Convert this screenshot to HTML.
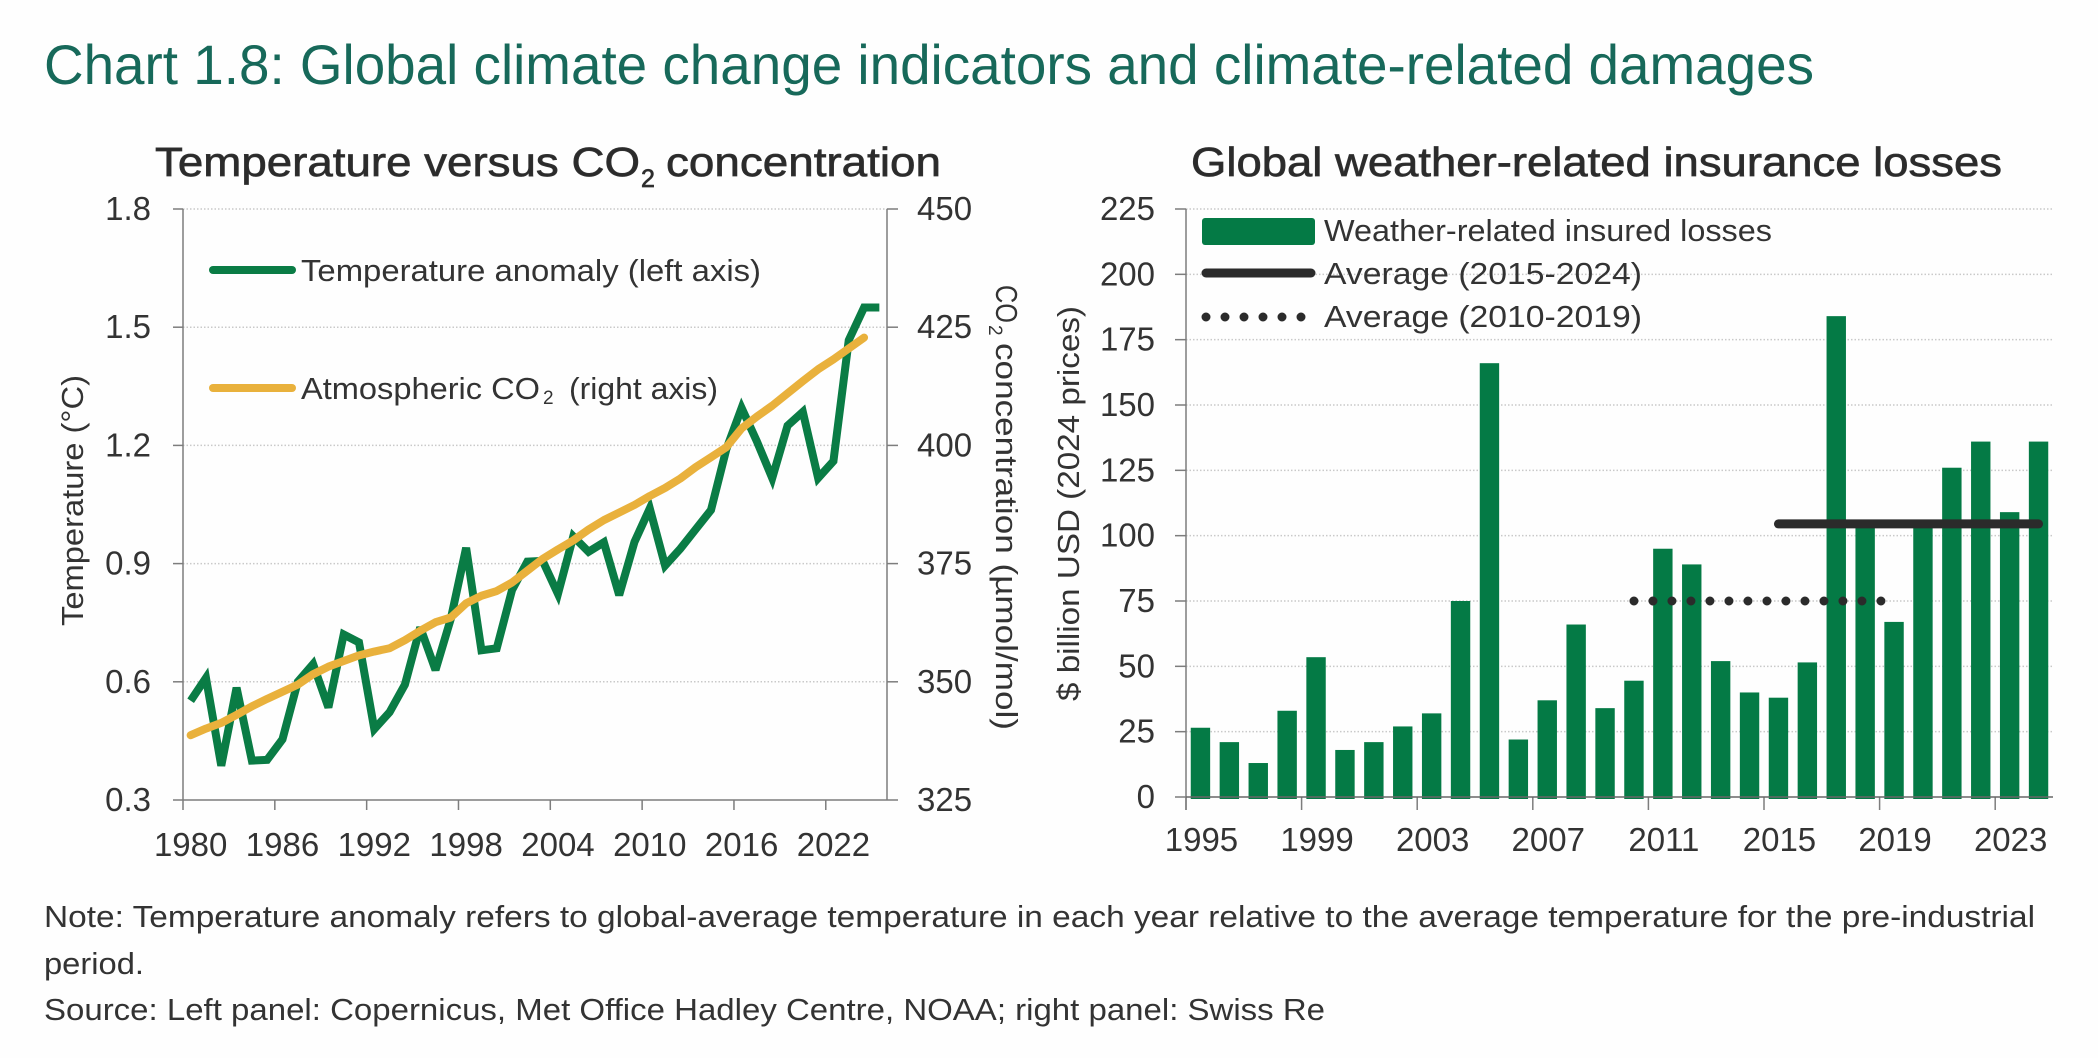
<!DOCTYPE html>
<html lang="en">
<head>
<meta charset="utf-8">
<title>Chart 1.8: Global climate change indicators and climate-related damages</title>
<style>
html,body{margin:0;padding:0;background:#fefefe;width:2098px;height:1058px;overflow:hidden}
svg{display:block}
text{font-family:"Liberation Sans",sans-serif;fill:#333}
.title{fill:#17695a;font-size:56px}
.ptitle{font-size:41px;stroke:#333;stroke-width:.7px;fill:#2b2b2b}
.tick{font-size:33px}
.lab{font-size:31px}
.leg{font-size:31px}
.foot{font-size:31px}
</style>
</head>
<body>
<svg id="chart" xmlns="http://www.w3.org/2000/svg" width="2098" height="1058" viewBox="0 0 2098 1058">
  <text class="title" x="44" y="84" textLength="1770" lengthAdjust="spacingAndGlyphs">Chart 1.8: Global climate change indicators and climate-related damages</text>

  <g>
    <text class="ptitle" x="155" y="176" textLength="485" lengthAdjust="spacingAndGlyphs">Temperature versus CO</text>
    <text class="ptitle" x="641" y="187" style="font-size:25px">2</text>
    <text class="ptitle" x="666" y="176" textLength="275" lengthAdjust="spacingAndGlyphs">concentration</text>
  </g>
  <text class="ptitle" x="1191" y="176" textLength="811" lengthAdjust="spacingAndGlyphs">Global weather-related insurance losses</text>

  <g id="left-grid"></g>
  <g id="left-axes"></g>
  <g id="left-series"></g>
  <g id="right-grid"></g>
  <g id="right-bars"></g>
  <g id="right-axes"></g>
  <g id="right-averages"></g>

  <text class="lab" transform="translate(83,626) rotate(-90)" textLength="251" lengthAdjust="spacingAndGlyphs">Temperature (°C)</text>
  <g transform="translate(996,285) rotate(90)">
    <text class="lab" x="0" y="0" textLength="38" lengthAdjust="spacingAndGlyphs">CO</text>
    <text x="40" y="7" style="font-size:19px">2</text>
    <text class="lab" x="58" y="0" textLength="387" lengthAdjust="spacingAndGlyphs">concentration (µmol/mol)</text>
  </g>
  <text class="lab" transform="translate(1079,701) rotate(-90)" textLength="395" lengthAdjust="spacingAndGlyphs">$ billion USD (2024 prices)</text>

  <g>
    <line x1="213" y1="270" x2="292" y2="270" stroke="#0a7c45" stroke-width="8" stroke-linecap="round"/>
    <text class="leg" x="301" y="281" textLength="460" lengthAdjust="spacingAndGlyphs">Temperature anomaly (left axis)</text>
    <line x1="213" y1="388" x2="292" y2="388" stroke="#e9b13c" stroke-width="8" stroke-linecap="round"/>
    <g>
      <text class="leg" x="301" y="399" textLength="239" lengthAdjust="spacingAndGlyphs">Atmospheric CO</text>
      <text x="543" y="404" style="font-size:19px">2</text>
      <text class="leg" x="569" y="399" textLength="149" lengthAdjust="spacingAndGlyphs">(right axis)</text>
    </g>
  </g>

  <g>
    <rect x="1202" y="218" width="113" height="27" rx="3" fill="#047a45"/>
    <text class="leg" x="1324" y="241" textLength="448" lengthAdjust="spacingAndGlyphs">Weather-related insured losses</text>
    <line x1="1206" y1="273" x2="1311" y2="273" stroke="#2b2b2b" stroke-width="9" stroke-linecap="round"/>
    <text class="leg" x="1324" y="284" textLength="318" lengthAdjust="spacingAndGlyphs">Average (2015-2024)</text>
    <line x1="1206" y1="317" x2="1302" y2="317" stroke="#2b2b2b" stroke-width="9" stroke-linecap="round" stroke-dasharray="0 19"/>
    <text class="leg" x="1324" y="327" textLength="318" lengthAdjust="spacingAndGlyphs">Average (2010-2019)</text>
  </g>

  <g>
    <text class="foot" x="44" y="927" textLength="1991" lengthAdjust="spacingAndGlyphs">Note: Temperature anomaly refers to global-average temperature in each year relative to the average temperature for the pre-industrial</text>
    <text class="foot" x="44" y="974" textLength="100" lengthAdjust="spacingAndGlyphs">period.</text>
    <text class="foot" x="44" y="1020" textLength="1281" lengthAdjust="spacingAndGlyphs">Source: Left panel: Copernicus, Met Office Hadley Centre, NOAA; right panel: Swiss Re</text>
  </g>
</svg>
<script>
const tempYears = [1980,1981,1982,1983,1984,1985,1986,1987,1988,1989,1990,1991,1992,1993,1994,1995,1996,1997,1998,1999,2000,2001,2002,2003,2004,2005,2006,2007,2008,2009,2010,2011,2012,2013,2014,2015,2016,2017,2018,2019,2020,2021,2022,2023,2024,2025];
const temperature = [0.552,0.61,0.387,0.585,0.40,0.402,0.454,0.60,0.645,0.535,0.72,0.70,0.48,0.523,0.593,0.738,0.63,0.76,0.94,0.68,0.685,0.833,0.905,0.907,0.823,0.969,0.93,0.954,0.82,0.955,1.04,0.895,0.938,0.987,1.036,1.19,1.295,1.21,1.117,1.25,1.285,1.117,1.16,1.467,1.55,1.55];
const co2 = [338.7,340.1,341.3,343.0,344.8,346.4,347.9,349.4,351.6,353.2,354.4,355.6,356.4,357.1,358.8,360.8,362.6,363.6,366.6,368.2,369.2,371.0,373.5,376.0,378.0,379.9,382.2,384.2,385.8,387.4,389.3,391.0,393.0,395.4,397.5,399.6,403.6,406.1,408.4,411.0,413.6,416.1,418.2,420.5,422.8];
const tempTicks = [0.3,0.6,0.9,1.2,1.5,1.8];
const co2Ticks = [325,350,375,400,425,450];
const leftXTicks = [1980,1986,1992,1998,2004,2010,2016,2022];
const lossYears = [1995,1996,1997,1998,1999,2000,2001,2002,2003,2004,2005,2006,2007,2008,2009,2010,2011,2012,2013,2014,2015,2016,2017,2018,2019,2020,2021,2022,2023,2024];
const losses = [26.5,21,13,33,53.5,18,21,27,32,75,166,22,37,66,34,44.5,95,89,52,40,38,51.5,184,104,67,104,126,136,109,136];
const lossTicks = [0,25,50,75,100,125,150,175,200,225];
const rightXTicks = [1995,1999,2003,2007,2011,2015,2019,2023];
const avgRecent = {from:2015,to:2024,value:104.5};
const avgPrior = {from:2010,to:2019,value:75};

const NS = 'http://www.w3.org/2000/svg';
const L = {x0:183,x1:887,y0:800,y1:209};
const R = {x0:1186,x1:2053,y0:797,y1:209};
const leftSlot = (L.x1-L.x0)/tempYears.length;
const rightSlot = (R.x1-R.x0)/lossYears.length;

function xLeftEdge(y){return L.x0+(y-tempYears[0])*leftSlot;}
function xLeft(y){return xLeftEdge(y)+leftSlot/2;}
function yTemp(v){return L.y0-(v-tempTicks[0])/(tempTicks[tempTicks.length-1]-tempTicks[0])*(L.y0-L.y1);}
function yCo2(v){return L.y0-(v-co2Ticks[0])/(co2Ticks[co2Ticks.length-1]-co2Ticks[0])*(L.y0-L.y1);}
function xRightEdge(y){return R.x0+(y-lossYears[0])*rightSlot;}
function xRight(y){return xRightEdge(y)+rightSlot/2;}
function yLoss(v){return R.y0-(v-lossTicks[0])/(lossTicks[lossTicks.length-1]-lossTicks[0])*(R.y0-R.y1);}

function make(tag,parent,attrs){
  const e=document.createElementNS(NS,tag);
  for(const k in attrs){e.setAttribute(k,attrs[k]);}
  parent.appendChild(e);
  return e;
}
function seg(parent,x1,y1,x2,y2,color,w,dash){
  const a={x1:x1,y1:y1,x2:x2,y2:y2,stroke:color,'stroke-width':w};
  if(dash){a['stroke-dasharray']=dash;}
  return make('line',parent,a);
}
function label(parent,x,y,str,anchor){
  const t=make('text',parent,{x:x,y:y,'text-anchor':anchor,'class':'tick'});
  t.textContent=str;
  return t;
}

const gl=document.getElementById('left-grid');
const al=document.getElementById('left-axes');
const sl=document.getElementById('left-series');
const gr=document.getElementById('right-grid');
const br=document.getElementById('right-bars');
const ar=document.getElementById('right-axes');
const av=document.getElementById('right-averages');
const axisColor='#7d7d7d';
const gridColor='#c9c9c9';

tempTicks.forEach(function(v){
  const y=yTemp(v);
  if(v!==tempTicks[0]){
    const g=seg(gl,L.x0,y,L.x1,y,gridColor,1.5,'1.5 2');
    
    
  }
  const t=seg(al,L.x0-10,y,L.x0,y,axisColor,1.5);
  
  
  const s=label(al,151,y+11,v.toFixed(1),'end');
  
  
});
co2Ticks.forEach(function(v){
  const y=yCo2(v);
  const t=seg(al,L.x1,y,L.x1+11,y,axisColor,1.5);
  
  
  const s=label(al,917,y+11,String(v),'start');
  
  
});
leftXTicks.forEach(function(yr){
  const x=xLeftEdge(yr);
  const t=seg(al,x,L.y0,x,L.y0+10,axisColor,1.5);
  
  
  const s=label(al,xLeft(yr),856,String(yr),'middle');
  
  
});
const lAxisL=seg(al,L.x0,L.y1,L.x0,L.y0,axisColor,1.5);


const lAxisR=seg(al,L.x1,L.y1,L.x1,L.y0,axisColor,1.5);


const lAxisB=seg(al,L.x0,L.y0,L.x1,L.y0,axisColor,1.5);



const tempPath=make('polyline',sl,{
  points:temperature.map(function(v,i){return xLeft(tempYears[i])+','+yTemp(v);}).join(' '),
  fill:'none',stroke:'#0a7c45','stroke-width':8,'stroke-linejoin':'miter','stroke-miterlimit':3
});


const co2Path=make('polyline',sl,{
  points:co2.map(function(v,i){return xLeft(tempYears[i])+','+yCo2(v);}).join(' '),
  fill:'none',stroke:'#e9b13c','stroke-width':8,'stroke-linejoin':'round','stroke-linecap':'round'
});



lossTicks.forEach(function(v){
  const y=yLoss(v);
  if(v!==0){
    const g=seg(gr,R.x0,y,R.x1,y,gridColor,1.5,'1.5 2');
    
    
  }
  const t=seg(ar,R.x0-11,y,R.x0,y,axisColor,1.5);
  
  
  const s=label(ar,1155,y+11,String(v),'end');
  
  
});
losses.forEach(function(v,i){
  const x=xRight(lossYears[i]);
  const b=make('rect',br,{x:x-9.7,y:yLoss(v),width:19.4,height:yLoss(0)-yLoss(v)+2,fill:'#047a45'});
  
  
});
rightXTicks.forEach(function(yr){
  const x=xRightEdge(yr);
  const t=seg(ar,x,R.y0,x,R.y0+13,axisColor,1.5);
  
  
  const s=label(ar,xRight(yr)+1,851,String(yr),'middle');
  
  
});
const rAxisL=seg(ar,R.x0,R.y1,R.x0,R.y0+13,axisColor,1.5);


const rAxisB=seg(ar,R.x0,R.y0,R.x1,R.y0,'#666',1.5);



const avgLine=make('line',av,{x1:xRight(avgRecent.from),y1:yLoss(avgRecent.value),x2:xRight(avgRecent.to),y2:yLoss(avgRecent.value),stroke:'#2b2b2b','stroke-width':9,'stroke-linecap':'round'});


const avgDots=make('line',av,{x1:xRight(avgPrior.from),y1:yLoss(avgPrior.value),x2:xRight(avgPrior.to),y2:yLoss(avgPrior.value),stroke:'#2b2b2b','stroke-width':9,'stroke-linecap':'round','stroke-dasharray':'0 19'});


</script>
</body>
</html>
